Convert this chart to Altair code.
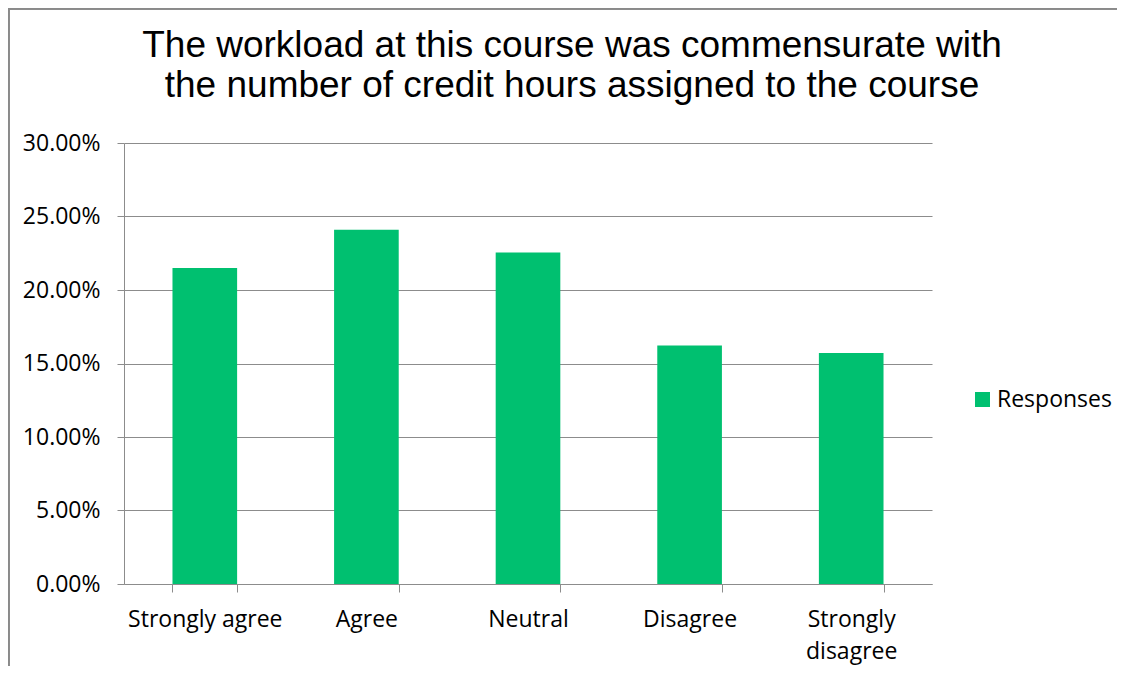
import altair as alt
import pandas as pd

categories = ["Strongly agree", "Agree", "Neutral", "Disagree", "Strongly disagree"]
values = [0.2150, 0.2410, 0.2255, 0.1623, 0.1571]
series_name = "Responses"
y_ticks = [0.0, 0.05, 0.10, 0.15, 0.20, 0.25, 0.30]
title_lines = ["The workload at this course was commensurate with",
               "the number of credit hours assigned to the course"]

df = pd.DataFrame({"category": categories, "value": values, "series": [series_name] * len(categories)})

LABEL_FONT = "Open Sans"
LABEL_SIZE = 23
GRAY = "#8c8c8c"
GREEN = "#00c070"
FRAME = "#8a8a8a"

bars = alt.Chart(df).mark_bar(color=GREEN).encode(
    x=alt.X("category:N", sort=categories,
            scale=alt.Scale(paddingInner=0.6, paddingOuter=0.3),
            axis=alt.Axis(title=None, labelAngle=0, labelFont=LABEL_FONT, labelFontSize=LABEL_SIZE,
                          labelColor="black", domainColor=GRAY, tickColor=GRAY, tickSize=8,
                          tickBand="extent", labelPadding=16, labelLineHeight=32,
                          labelBaseline="top",
                          labelExpr="datum.label == 'Strongly disagree' ? ['Strongly', 'disagree'] : datum.label")),
    y=alt.Y("value:Q", scale=alt.Scale(domain=[0, 0.3], nice=False),
            axis=alt.Axis(title=None, format=".2%", values=y_ticks, labelFont=LABEL_FONT,
                          labelFontSize=LABEL_SIZE, labelColor="black", domainColor=GRAY, tickColor=GRAY,
                          tickSize=7, labelPadding=17, gridColor=GRAY, gridWidth=1.2)),
    fill=alt.Fill("series:N", scale=alt.Scale(range=[GREEN]),
                  legend=alt.Legend(title=None, orient="none", legendX=847, legendY=245,
                                    symbolType="square", symbolSize=225, symbolStrokeWidth=0,
                                    labelFont=LABEL_FONT, labelFontSize=LABEL_SIZE, labelColor="black",
                                    padding=0, labelOffset=3)),
)

top_edge = alt.Chart(df).mark_rect(color=FRAME, strokeWidth=0).encode(
    x=alt.value(-116), x2=alt.value(1100), y=alt.value(-135), y2=alt.value(-133.5)
)
left_edge = alt.Chart(df).mark_rect(color=FRAME, strokeWidth=0).encode(
    x=alt.value(-116), x2=alt.value(-114.5), y=alt.value(-135), y2=alt.value(700)
)

chart = alt.layer(bars, top_edge, left_edge).properties(
    width=808, height=441,
    padding={"left": 116, "top": 135, "right": 185, "bottom": 82},
    autosize=alt.AutoSizeParams(type="none"),
    title=alt.TitleParams(text=title_lines, font="Liberation Sans", fontSize=37,
                          fontWeight="normal", color="black", anchor="middle", frame="group",
                          dx=44, dy=137, offset=40, lineHeight=40),
).configure_view(stroke=None)

chart.save("out.html", embed_options={"renderer": "svg", "actions": False})
